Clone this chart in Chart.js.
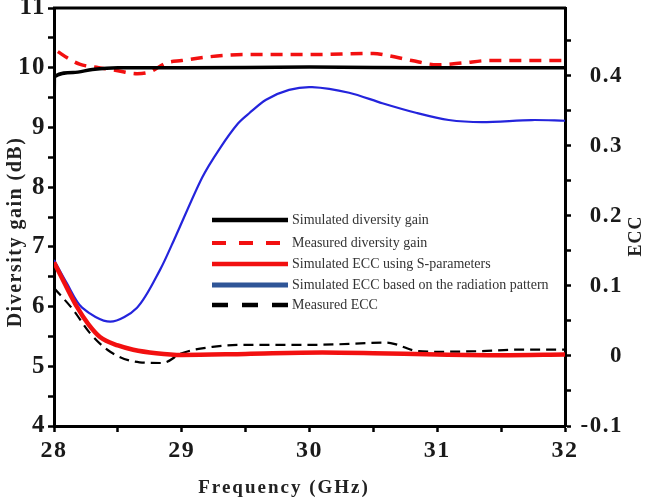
<!DOCTYPE html>
<html>
<head>
<meta charset="utf-8">
<script src="https://cdn.jsdelivr.net/npm/chart.js@4/dist/chart.umd.min.js"></script>
<style>
  html, body { margin: 0; padding: 0; background: #fff; }
  #wrap { width: 645px; height: 501px; position: relative; }
</style>
</head>
<body>
<div id="wrap"><canvas id="c"></canvas></div>
<script>
// --- data ---
const dgSimFreq  = [28, 28.003, 28.15, 28.3, 28.5, 29, 30, 31, 32];
const dgSimVal   = [9.0, 9.85, 9.92, 9.97, 10.0, 10.0, 10.01, 10.0, 10.0];

const dgMeasFreq = [28.03, 28.1, 28.2, 28.35, 28.5, 28.65, 28.75, 28.88, 29.0, 29.2, 29.5, 30.0, 30.5, 30.6, 30.8, 31.0, 31.2, 31.4, 32];
const dgMeasVal  = [10.27, 10.17, 10.06, 10.0, 9.95, 9.9, 9.93, 10.08, 10.12, 10.18, 10.22, 10.22, 10.24, 10.21, 10.12, 10.05, 10.08, 10.12, 10.12];

const eccSFreq   = [28, 28.08, 28.18, 28.27, 28.36, 28.5, 28.62, 28.8, 29.0, 29.5, 30.1, 30.5, 31.0, 31.5, 32];
const eccSVal    = [0.134, 0.105, 0.07, 0.045, 0.027, 0.015, 0.009, 0.004, 0.0015, 0.003, 0.005, 0.004, 0.002, 0.001, 0.002];

const eccRadFreq = [28, 28.1, 28.22, 28.44, 28.65, 28.83, 28.95, 29.16, 29.3, 29.44, 29.53, 29.66, 29.84, 30.02, 30.31, 30.57, 30.84, 31.09, 31.35, 31.74, 32];
const eccRadVal  = [0.137, 0.104, 0.069, 0.049, 0.069, 0.123, 0.17, 0.255, 0.297, 0.332, 0.347, 0.366, 0.38, 0.384, 0.376, 0.361, 0.347, 0.337, 0.334, 0.337, 0.336];

const eccMeasFreq = [28, 28.15, 28.28, 28.44, 28.67, 28.85, 29.0, 29.24, 29.53, 30.05, 30.6, 30.67, 30.84, 31.0, 31.35, 31.62, 32];
const eccMeasVal  = [0.097, 0.066, 0.033, 0.006, -0.009, -0.01, 0.004, 0.013, 0.016, 0.016, 0.019, 0.017, 0.007, 0.006, 0.007, 0.009, 0.009];

const legendLabels = [
    'Simulated diversity gain',
    'Measured diversity gain',
    'Simulated ECC using S-parameters',
    'Simulated ECC based on the radiation pattern',
    'Measured ECC',
];

const xTicks  = [28, 28.5, 29, 29.5, 30, 30.5, 31, 31.5, 32];
const yTicks  = [4, 4.5, 5, 5.5, 6, 6.5, 7, 7.5, 8, 8.5, 9, 9.5, 10, 10.5, 11];
const y1Ticks = [-0.1, -0.05, 0, 0.05, 0.1, 0.15, 0.2, 0.25, 0.3, 0.35, 0.4, 0.45];

const SERIF = "'Liberation Serif', 'Times New Roman', serif";

const pts = (xs, ys) => xs.map((x, i) => ({ x, y: ys[i] }));
const setTicks = list => scale => { scale.ticks = list.map(v => ({ value: v })); };
const isWhole = (v, step) => Math.abs(v / step - Math.round(v / step)) < 1e-6;

// legend swatch + text, axis titles and the top frame line
const decorPlugin = {
    id: 'decor',
    beforeDraw(chart) {
        chart.ctx.letterSpacing = '1.5px';
    },
    afterDraw(chart) {
        const { ctx, chartArea } = chart;
        ctx.save();
        // top frame
        ctx.strokeStyle = '#000';
        ctx.lineWidth = 3;
        ctx.beginPath();
        ctx.moveTo(chartArea.left - 1, chartArea.top);
        ctx.lineTo(chartArea.right + 1, chartArea.top);
        ctx.stroke();

        // legend
        ctx.letterSpacing = '0px';
        const rows = [220, 243, 264, 285, 305];
        chart.data.datasets.forEach((ds, i) => {
            const y = rows[i];
            ctx.strokeStyle = ds.legendColor || ds.borderColor;
            ctx.lineWidth = ds.legendWidth;
            ctx.setLineDash(ds.legendDash || []);
            ctx.beginPath();
            ctx.moveTo(212, y);
            ctx.lineTo(288, y);
            ctx.stroke();
            ctx.setLineDash([]);
            ctx.fillStyle = '#333';
            ctx.font = '14px ' + SERIF;
            ctx.textBaseline = 'middle';
            ctx.textAlign = 'left';
            ctx.fillText(legendLabels[i], 292, y);
        });

        // axis titles
        ctx.fillStyle = '#222';
        ctx.font = 'bold 19px ' + SERIF;
        ctx.letterSpacing = '2px';
        ctx.textAlign = 'center';
        ctx.textBaseline = 'middle';
        ctx.fillText('Frequency (GHz)', 284, 488);

        ctx.save();
        ctx.translate(16, 232);
        ctx.rotate(-Math.PI / 2);
        ctx.letterSpacing = '1.5px';
        ctx.font = 'bold 20px ' + SERIF;
        ctx.fillText('Diversity gain (dB)', 0, 0);
        ctx.restore();

        ctx.save();
        ctx.translate(636, 236);
        ctx.rotate(-Math.PI / 2);
        ctx.letterSpacing = '1px';
        ctx.font = 'bold 18px ' + SERIF;
        ctx.fillText('ECC', 0, 0);
        ctx.restore();

        ctx.restore();
    },
};

const tickFont = { family: SERIF, size: 25, weight: 'bold' };

new Chart(document.getElementById('c'), {
    type: 'line',
    data: {
        datasets: [
            {
                data: pts(dgSimFreq, dgSimVal), yAxisID: 'y',
                borderColor: '#000', borderWidth: 3.5, legendWidth: 4.5,
            },
            {
                data: pts(dgMeasFreq, dgMeasVal), yAxisID: 'y',
                borderColor: '#f21010', borderWidth: 3.5, borderDash: [12, 8],
                legendWidth: 4, legendDash: [14, 13],
            },
            {
                data: pts(eccSFreq, eccSVal), yAxisID: 'y1',
                borderColor: '#f21010', borderWidth: 4.5, legendWidth: 4.5,
            },
            {
                data: pts(eccRadFreq, eccRadVal), yAxisID: 'y1',
                borderColor: '#2424dc', borderWidth: 2.2,
                cubicInterpolationMode: 'default', tension: 0.3,
                legendColor: '#2f5597', legendWidth: 5,
            },
            {
                data: pts(eccMeasFreq, eccMeasVal), yAxisID: 'y1',
                borderColor: '#000', borderWidth: 2.2, borderDash: [10, 6],
                legendWidth: 4.5, legendDash: [16, 14],
            },
        ],
    },
    options: {
        responsive: true,
        maintainAspectRatio: false,
        animation: false,
        layout: { padding: { top: 8, right: 22, left: 0, bottom: 0 } },
        elements: {
            point: { radius: 0 },
            line: { tension: 0.35, cubicInterpolationMode: 'monotone', borderCapStyle: 'butt' },
        },
        plugins: { legend: { display: false }, tooltip: { enabled: false } },
        scales: {
            x: {
                type: 'linear', position: 'bottom', min: 28, max: 32,
                afterBuildTicks: setTicks(xTicks),
                afterFit: s => { s.height = 75; s.paddingLeft = 0; s.paddingRight = 0; },
                ticks: {
                    font: { family: SERIF, size: 24, weight: 'bold' }, color: '#1a1a1a',
                    padding: 4, maxRotation: 0, autoSkip: false,
                    callback: v => isWhole(v, 1) ? String(v) : '',
                },
                grid: { drawOnChartArea: false, tickLength: 6, tickWidth: 2.5, tickColor: '#000' },
                border: { color: '#000', width: 3 },
            },
            y: {
                type: 'linear', position: 'left', min: 4, max: 11,
                afterBuildTicks: setTicks(yTicks),
                afterFit: s => { s.width = 54; s.paddingTop = 0; s.paddingBottom = 0; },
                ticks: {
                    font: tickFont, color: '#1a1a1a', padding: 2, autoSkip: false,
                    callback: v => isWhole(v, 1) ? String(v) : '',
                },
                grid: { drawOnChartArea: false, tickLength: 6, tickWidth: 2.5, tickColor: '#000' },
                border: { color: '#000', width: 3 },
            },
            y1: {
                type: 'linear', position: 'right', min: -0.1, max: 0.497,
                afterBuildTicks: setTicks(y1Ticks),
                afterFit: s => { s.width = 58; s.paddingTop = 0; s.paddingBottom = 0; },
                ticks: {
                    font: { family: SERIF, size: 23, weight: 'bold' }, color: '#1a1a1a',
                    padding: 14, autoSkip: false, crossAlign: 'far',
                    callback: v => isWhole(v, 0.1) ? String(Math.round(v * 10) / 10) : '',
                },
                grid: { drawOnChartArea: false, tickLength: 6, tickWidth: 2.5, tickColor: '#000' },
                border: { color: '#000', width: 3 },
            },
        },
    },
    plugins: [decorPlugin],
});
</script>
</body>
</html>
